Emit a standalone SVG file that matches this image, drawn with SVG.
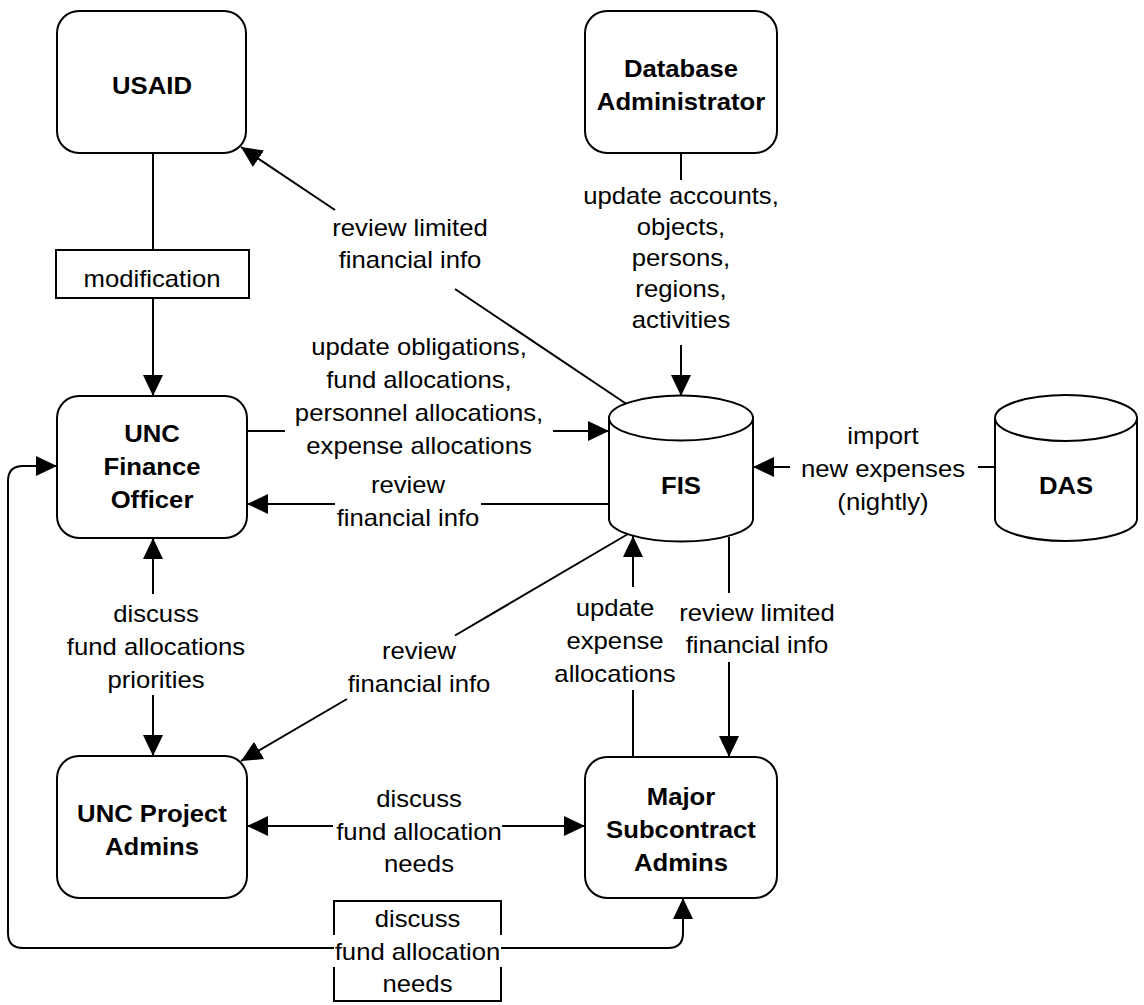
<svg xmlns="http://www.w3.org/2000/svg" width="1144" height="1005" viewBox="0 0 1144 1005">
<defs>
<style>
.box{fill:#fff;stroke:#000;stroke-width:2}
.ln{fill:none;stroke:#000;stroke-width:2}
.a{marker-end:url(#ah)}
text{font-family:"Liberation Sans",Arial,sans-serif;font-size:24px;fill:#000;text-anchor:middle}
.b{font-weight:bold}
</style>
<marker id="ah" markerUnits="userSpaceOnUse" markerWidth="22" markerHeight="22" refX="21" refY="10" orient="auto-start-reverse" viewBox="0 0 22 20"><path d="M0,0 L21,10 L0,20 Z" fill="#000"/></marker>
</defs>
<rect width="1144" height="1005" fill="#fff"/>

<g id="connectors">
<!-- USAID -> modification -> Finance -->
<line class="ln" x1="153" y1="153" x2="153" y2="250"/>
<rect class="box" x="56" y="250" width="193" height="48"/>
<text transform="translate(152 0) scale(1.07 1)"><tspan x="0" y="287">modification</tspan></text>
<line class="ln a" x1="153" y1="298" x2="153" y2="396"/>

<!-- DB admin -> FIS -->
<line class="ln" x1="681" y1="153" x2="681" y2="180"/>
<text transform="translate(681 0) scale(1.07 1)"><tspan x="0" y="204">update accounts,</tspan><tspan x="0" y="235">objects,</tspan><tspan x="0" y="266">persons,</tspan><tspan x="0" y="297">regions,</tspan><tspan x="0" y="328">activities</tspan></text>
<line class="ln a" x1="681" y1="345" x2="681" y2="396"/>

<!-- FIS -> USAID -->
<line class="ln" x1="628" y1="405" x2="455" y2="289"/>
<line class="ln a" x1="335" y1="210" x2="241" y2="147"/>
<text transform="translate(410 0) scale(1.07 1)"><tspan x="0" y="236">review limited</tspan><tspan x="0" y="268">financial info</tspan></text>

<!-- Finance -> FIS update -->
<line class="ln" x1="247" y1="431" x2="285" y2="431"/>
<line class="ln a" x1="553" y1="431" x2="609" y2="431"/>
<text transform="translate(419 0) scale(1.07 1)"><tspan x="0" y="355">update obligations,</tspan><tspan x="0" y="388">fund allocations,</tspan><tspan x="0" y="421">personnel allocations,</tspan><tspan x="0" y="454">expense allocations</tspan></text>

<!-- FIS -> Finance review -->
<line class="ln" x1="609" y1="504" x2="481" y2="504"/>
<line class="ln a" x1="335" y1="504" x2="247" y2="504"/>
<text transform="translate(408 0) scale(1.07 1)"><tspan x="0" y="493">review</tspan><tspan x="0" y="526">financial info</tspan></text>

<!-- DAS -> FIS import -->
<line class="ln" x1="995" y1="467" x2="978" y2="467"/>
<line class="ln a" x1="790" y1="467" x2="753" y2="467"/>
<text transform="translate(883 0) scale(1.07 1)"><tspan x="0" y="444">import</tspan><tspan x="0" y="477">new expenses</tspan><tspan x="0" y="510">(nightly)</tspan></text>

<!-- Finance <-> Project -->
<line class="ln a" x1="153" y1="594" x2="153" y2="538"/>
<line class="ln a" x1="153" y1="695" x2="153" y2="756"/>
<text transform="translate(156 0) scale(1.07 1)"><tspan x="0" y="622">discuss</tspan><tspan x="0" y="655">fund allocations</tspan><tspan x="0" y="688">priorities</tspan></text>

<!-- FIS -> Project review -->
<line class="ln" x1="628" y1="534" x2="455" y2="635.5"/>
<line class="ln a" x1="347" y1="699" x2="241" y2="761"/>
<text transform="translate(419 0) scale(1.07 1)"><tspan x="0" y="659">review</tspan><tspan x="0" y="692">financial info</tspan></text>

<!-- Major -> FIS update expense -->
<line class="ln" x1="633" y1="757" x2="633" y2="690"/>
<line class="ln a" x1="633" y1="587" x2="633" y2="536"/>
<text transform="translate(615 0) scale(1.07 1)"><tspan x="0" y="616">update</tspan><tspan x="0" y="649">expense</tspan><tspan x="0" y="682">allocations</tspan></text>

<!-- FIS -> Major review limited -->
<line class="ln" x1="729" y1="537" x2="729" y2="593"/>
<line class="ln a" x1="729" y1="662" x2="729" y2="757"/>
<text transform="translate(757 0) scale(1.07 1)"><tspan x="0" y="621">review limited</tspan><tspan x="0" y="653">financial info</tspan></text>

<!-- Project <-> Major -->
<line class="ln a" x1="333" y1="826" x2="247" y2="826"/>
<line class="ln a" x1="502" y1="826" x2="585" y2="826"/>
<text transform="translate(419 0) scale(1.07 1)"><tspan x="0" y="807">discuss</tspan><tspan x="0" y="840">fund allocation</tspan><tspan x="0" y="872">needs</tspan></text>

<!-- Finance <-> Major loop -->
<rect class="box" x="334" y="901" width="167" height="100"/>
<rect x="331" y="935" width="173" height="32" fill="#fff"/>
<text transform="translate(417.5 0) scale(1.07 1)"><tspan x="0" y="927">discuss</tspan><tspan x="0" y="960">fund allocation</tspan><tspan x="0" y="992">needs</tspan></text>
<path class="ln a" d="M334,948 H23 Q8,948 8,933 V481 Q8,466 23,466 H57"/>
<path class="ln a" d="M501,948 H668 Q683,948 683,933 V898"/>
</g>

<g id="usaid">
<rect class="box" x="57" y="11" width="189" height="142" rx="22"/>
<text class="b" transform="translate(152 0) scale(1.07 1)"><tspan x="0" y="94">USAID</tspan></text>
</g>

<g id="db-admin">
<rect class="box" x="585" y="11" width="192" height="142" rx="22"/>
<text class="b" transform="translate(681 0) scale(1.07 1)"><tspan x="0" y="77">Database</tspan><tspan x="0" y="110">Administrator</tspan></text>
</g>

<g id="unc-finance-officer">
<rect class="box" x="57" y="396" width="190" height="142" rx="22"/>
<text class="b" transform="translate(152 0) scale(1.07 1)"><tspan x="0" y="442">UNC</tspan><tspan x="0" y="475">Finance</tspan><tspan x="0" y="508">Officer</tspan></text>
</g>

<g id="fis">
<path class="box" d="M609,418 A72,22.5 0 0 1 753,418 L753,519 A72,22.5 0 0 1 609,519 Z"/>
<path class="ln" d="M609,418 A72,22.5 0 0 0 753,418"/>
<text class="b" transform="translate(681 0) scale(1.07 1)"><tspan x="0" y="494">FIS</tspan></text>
</g>

<g id="das">
<path class="box" d="M995,418 A71,23 0 0 1 1137,418 L1137,519 A71,22 0 0 1 995,519 Z"/>
<path class="ln" d="M995,418 A71,23 0 0 0 1137,418"/>
<text class="b" transform="translate(1066 0) scale(1.07 1)"><tspan x="0" y="494">DAS</tspan></text>
</g>

<g id="unc-project-admins">
<rect class="box" x="57" y="756" width="190" height="142" rx="22"/>
<text class="b" transform="translate(152 0) scale(1.07 1)"><tspan x="0" y="822">UNC Project</tspan><tspan x="0" y="855">Admins</tspan></text>
</g>

<g id="major-subcontract-admins">
<rect class="box" x="585" y="757" width="192" height="141" rx="22"/>
<text class="b" transform="translate(681 0) scale(1.07 1)"><tspan x="0" y="805">Major</tspan><tspan x="0" y="838">Subcontract</tspan><tspan x="0" y="871">Admins</tspan></text>
</g>
</svg>
